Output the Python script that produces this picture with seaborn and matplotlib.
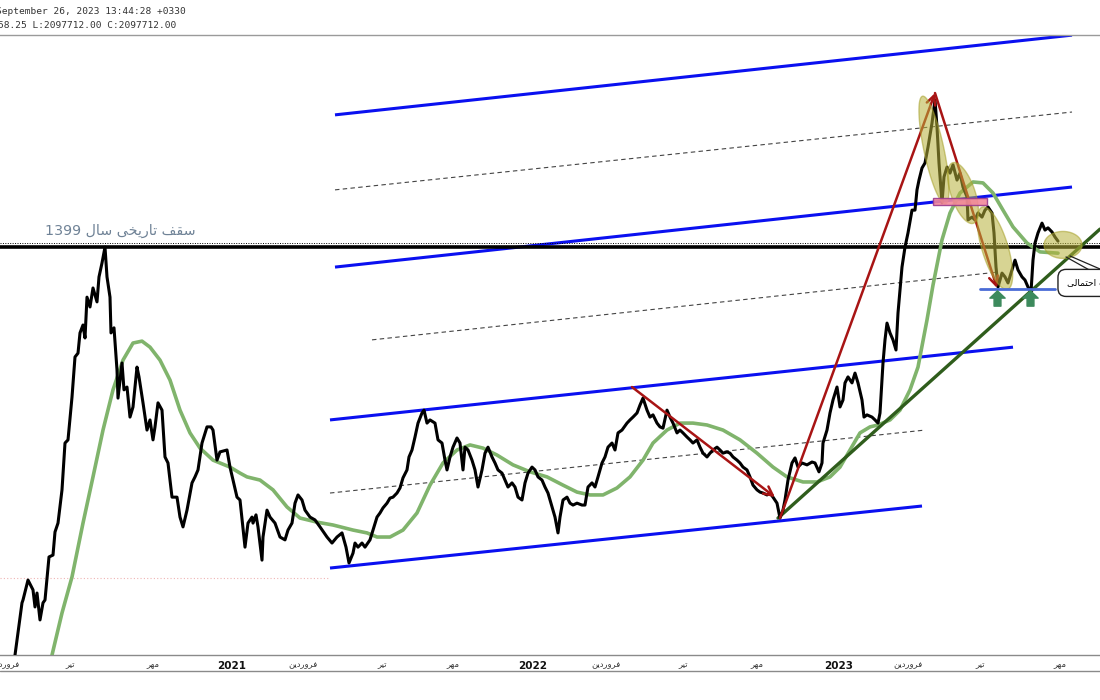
import numpy as np
import pandas as pd
import matplotlib
matplotlib.use("Agg")
import matplotlib.pyplot as plt
import seaborn as sns
from matplotlib.path import Path
from matplotlib.patches import Polygon, Rectangle
from matplotlib.lines import Line2D

sns.set_style("white")
plt.rcParams["font.family"] = ["DejaVu Sans"]

# ---------------- data (TEDPIX, thousands of points, by trading bar) ----------------
bars = [10,17,18,23,28,30,32,35,38,40, 44,48,50,53,57,60,63,67,70,73,
        75,78,80,82,85,88,92,94,97,100, 102,105,106,109,112,113,117,119,122,125,
        128,132,134,138,142,145,148,150,153,157, 160,163,167,172,175,178,182,187,190,193,
        197,202,206,208,212,215,222,225,228,232, 235,240,243,247,248,251,253,257,258,262,
        265,270,275,280,283,287,290,293,297,300, 305,310,315,322,327,332,337,341,344,348,
        350,353,357,360,365,368,372,375,378,382, 385,388,392,395,398,402,404,407,410,413,
        417,419,422,425,430,433,437,440,442,445, 448,452,455,458,460,463,467,470,473,477,
        480,483,487,490,493,497,500,503,507,510, 513,517,520,523,527,530,533,537,540,543,
        547,550,553,555,558,562,565,568,572,577, 580,583,587,590,593,597,600,603,607,610,
        613,617,622,625,628,632,635,638,642,645, 648,652,655,658,662,665,668,672,675,678,
        682,685,688,692,695,698,702,705,708,712, 715,718,722,725,728,732,735,738,742,745,
        748,752,755,758,762,765,768,772,775,778, 780,783,787,790,793,797,802,807,810,814,
        817,818,822,825,828,832,835,838,840,843, 847,850,853,857,859,862,867,870,873,875,
        878,880,882,885,888,891,893,897,900,903, 907,910,912,914,917,920,923,927,930,932,
        934,937,939,942,945,948,952,955,958,962, 963,967,970,973,977,980,983,987,989,991,
        993,997,1000,1003,1007,1010,1013,1017,1020,1023, 1026,1028,1030,1033,1037,1040,1043,1047,1050,1053]
close = [790,955,964,1027,996,942,986,901,955,964, 1100,1106,1179,1207,1312,1460,1470,1605,1732,1744,
         1808,1833,1792,1921,1890,1950,1906,1985,2029,2079, 1985,1921,1808,1824,1691,1602,1713,1628,1637,1542,
         1574,1700,1669,1587,1501,1533,1470,1511,1587,1564, 1416,1397,1289,1289,1226,1195,1248,1334,1353,1375,
         1460,1511,1511,1501,1406,1432,1438,1384,1343,1289, 1280,1131,1207,1226,1207,1233,1195,1090,1163,1248,
         1226,1207,1163,1154,1185,1207,1270,1296,1280,1248, 1226,1217,1195,1163,1144,1163,1176,1131,1081,1112,
         1144,1131,1144,1131,1154,1185,1226,1239,1255,1270, 1286,1289,1302,1318,1350,1375,1416,1438,1479,1523,
         1555,1564,1523,1533,1523,1470,1460,1406,1375,1416, 1447,1476,1460,1375,1447,1438,1406,1375,1321,1375,
         1428,1447,1416,1397,1375,1365,1343,1321,1334,1321, 1289,1280,1334,1365,1384,1375,1353,1343,1321,1302,
         1258,1226,1176,1226,1280,1289,1270,1264,1270,1264, 1264,1321,1334,1321,1353,1397,1416,1447,1460,1438,
         1492,1501,1523,1533,1542,1555,1580,1602,1564,1542, 1549,1523,1511,1507,1564,1542,1523,1492,1501,1492,
         1479,1470,1460,1470,1447,1428,1416,1428,1438,1447, 1438,1428,1432,1428,1416,1406,1397,1384,1375,1353,
         1327,1312,1305,1302,1296,1302,1289,1270,1223,1248, 1280,1343,1397,1413,1384,1397,1391,1400,1397,1369,
         1397,1460,1501,1555,1596,1637,1574,1596,1650,1669, 1650,1681,1650,1596,1542,1549,1542,1533,1523,1555,
         1713,1786,1839,1808,1786,1754,1871,2016,2079,2124, 2196,2196,2260,2291,2329,2345,2395,2471,2544,2459,
         2345,2219,2301,2332,2313,2339,2291,2313,2269,2238, 2165,2174,2165,2187,2174,2196,2206,2187,2124,2016,
         1953,1997,1985,1966,2007,2038,2007,1985,1975,1953, 1937,2038,2092,2124,2155,2133,2140,2127,2111,2098]

sma_bars = [47,57,67,78,88,98,108,118,128,137, 145,155,165,175,185,195,208,225,235,242,
            255,268,282,295,312,328,348,362,372,385, 398,412,425,438,452,465,478,492,508,525,
            542,558,572,585,598,612,625,638,648,662, 675,688,702,718,735,752,768,782,798,812,
            825,835,845,855,865,873,885,895,905,913, 922,928,937,945,955,968,978,988,998,1008,
            1022,1035,1053]
sma = [790,923,1037,1207,1353,1501,1628,1722,1776,1782, 1763,1722,1659,1564,1492,1444,1406,1384,1365,1353,
       1343,1312,1258,1223,1210,1201,1185,1176,1163,1163, 1185,1239,1327,1397,1438,1454,1444,1422,1391,1369,
       1353,1327,1305,1296,1296,1318,1353,1406,1460,1501, 1523,1523,1517,1501,1470,1428,1384,1353,1337,1337,
       1353,1384,1438,1492,1511,1517,1533,1564,1628,1700, 1849,1959,2102,2187,2250,2285,2282,2250,2196,2143,
       2092,2064,2060]

peak_1399 = 2079
tick_bars = [0, 65, 148, 227, 298, 377, 448, 528, 601, 678, 752, 834, 903, 975, 1055]
tick_labels = ["فروردین", "تیر", "مهر", "2021", "فروردین", "تیر", "مهر", "2022",
               "فروردین", "تیر", "مهر", "2023", "فروردین", "تیر", "مهر"]

# drawings (bar, value)
channel_lines = [((330, 2497), (1067, 2749)), ((330, 2016), (1067, 2269)),
                 ((325, 1533), (1008, 1763)), ((325, 1065), (917, 1261))]
mid_lines = [((330, 2260), (1067, 2506)), ((367, 1786), (992, 2000)), ((325, 1302), (920, 1501))]
red_arrows = [((627, 1637), (770, 1289)), ((775, 1223), (930, 2566)), ((930, 2566), (992, 1950))]
trend_line = ((773, 1223), (1095, 2136))
ellipses = [(929, 2386, 55, 10, -78), (958, 2250, 32, 12, -71), (990, 2076, 43, 13, -73), (1058, 2086, 19, 13.5, 0)]
support_level = ((975, 1050), 1947)
support_arrows_bar = [992, 1025]
support_arrows_val = 1918

# ---------------- Persian shaping (presentation forms, visual order) ----------------
AR = {
    'ا': ('\ufe8d', '\ufe8e', None, None), 'ب': ('\ufe8f', '\ufe90', '\ufe91', '\ufe92'),
    'ت': ('\ufe95', '\ufe96', '\ufe97', '\ufe98'), 'ح': ('\ufea1', '\ufea2', '\ufea3', '\ufea4'),
    'خ': ('\ufea5', '\ufea6', '\ufea7', '\ufea8'), 'د': ('\ufea9', '\ufeaa', None, None),
    'ر': ('\ufead', '\ufeae', None, None), 'س': ('\ufeb1', '\ufeb2', '\ufeb3', '\ufeb4'),
    'ف': ('\ufed1', '\ufed2', '\ufed3', '\ufed4'), 'ق': ('\ufed5', '\ufed6', '\ufed7', '\ufed8'),
    'ل': ('\ufedd', '\ufede', '\ufedf', '\ufee0'), 'م': ('\ufee1', '\ufee2', '\ufee3', '\ufee4'),
    'ن': ('\ufee5', '\ufee6', '\ufee7', '\ufee8'), 'ه': ('\ufee9', '\ufeea', '\ufeeb', '\ufeec'),
    'و': ('\ufeed', '\ufeee', None, None), 'ی': ('\ufeef', '\ufef0', '\ufef3', '\ufef4'),
}


def shape_word(w):
    out, prev, i = [], False, 0
    while i < len(w):
        c = w[i]
        if c == 'ل' and i + 1 < len(w) and w[i + 1] == 'ا':
            out.append('\ufefc' if prev else '\ufefb')
            prev = False
            i += 2
            continue
        if c in AR:
            iso, fin, ini, med = AR[c]
            nxt = i + 1 < len(w) and w[i + 1] in AR
            dual = ini is not None
            if prev and dual and nxt:
                g = med
            elif prev:
                g = fin
            elif dual and nxt:
                g = ini
            else:
                g = iso
            out.append(g)
            prev = dual
        else:
            out.append(c)
            prev = False
        i += 1
    return ''.join(out)


def fa(s):
    vis = []
    for w in s.split(' '):
        vis.append(shape_word(w)[::-1] if any(ch in AR for ch in w) else w)
    return ' '.join(vis[::-1])


# ---------------- figure ----------------
fig = plt.figure(figsize=(11, 7), dpi=100)
ax = fig.add_axes([0, 45 / 700, 1, 620 / 700])
ax.set_xlim(-5, 1095)
ax.set_ylim(790.2, 2749.4)

# channel + mid lines
for (x0, y0), (x1, y1) in channel_lines:
    ax.plot([x0, x1], [y0, y1], color="#0a10f0", lw=2.2, zorder=2, solid_capstyle="butt")
for (x0, y0), (x1, y1) in mid_lines:
    ax.plot([x0, x1], [y0, y1], color="#444444", lw=0.8, ls=(0, (4, 3)), zorder=2)

# 1399 ceiling
ax.axhline(peak_1399, color="black", lw=2.6, zorder=2)
ax.axhline(2092, color="black", lw=0.7, ls=(0, (1, 1.5)), zorder=2)
ax.plot([-5, 325], [1033, 1033], color="#f0b4b4", lw=0.8, ls=(0, (1, 2)), zorder=1)
ax.text(40, 2130, fa("سقف تاریخی سال 1399"), fontsize=10.3, color="#6f8296",
        ha="left", va="center", zorder=3)

# moving average and price
sns.lineplot(x=sma_bars, y=sma, ax=ax, color="#80b46c", lw=2.6, zorder=3)
(x0, y0), (x1, y1) = trend_line
ax.plot([x0, x1], [y0, y1], color="#2f5d1c", lw=2.4, zorder=3)
df = pd.DataFrame({"bar": bars, "close": close})
sns.lineplot(data=df, x="bar", y="close", ax=ax, color="black", lw=2.2, zorder=4)

# red arrows
for (xa, ya), (xb, yb) in red_arrows:
    ax.annotate("", xy=(xb, yb), xytext=(xa, ya), zorder=5,
                arrowprops=dict(arrowstyle="->", color="#a81414", lw=1.8,
                                mutation_scale=16, shrinkA=0, shrinkB=0))

# ellipses
def ellipse(cx, cv, a, b, ang, **kw):
    t = np.linspace(0, 2 * np.pi, 90)
    c = ax.transData.transform((cx, cv))
    th = np.deg2rad(ang)
    dx = a * np.cos(t) * np.cos(th) - b * np.sin(t) * np.sin(th)
    dy = a * np.cos(t) * np.sin(th) + b * np.sin(t) * np.cos(th)
    pts = ax.transData.inverted().transform(np.column_stack([c[0] + dx, c[1] + dy]))
    ax.add_patch(Polygon(pts, closed=True, **kw))

for cx, cv, a, b, ang in ellipses:
    ellipse(cx, cv, a, b, ang, facecolor="#b7b23a", alpha=0.55, edgecolor="#a6a02a", lw=1, zorder=6)

ax.add_patch(Rectangle((928, 2212), 54, 22, facecolor="#f2879a", edgecolor="#9a3a8c",
                       lw=1, alpha=0.9, zorder=6))

# support line and arrows
(sx0, sx1), sv = support_level
ax.plot([sx0, sx1], [sv, sv], color="#4a6bd6", lw=2, zorder=6)
arrow_path = Path([(0, 1), (1, 0.05), (0.45, 0.05), (0.45, -1), (-0.45, -1), (-0.45, 0.05), (-1, 0.05), (0, 1)],
                  [Path.MOVETO] + [Path.LINETO] * 6 + [Path.CLOSEPOLY])
ax.plot(support_arrows_bar, [support_arrows_val] * 2, ls="none", marker=arrow_path,
        markersize=11, color="#3c8a5c", zorder=7)

# callout
ax.plot([1061, 1095], [2048, 1988], color="#222222", lw=0.9, zorder=7)
ax.plot([1065, 1095], [2051, 2010], color="#222222", lw=0.9, zorder=7)
ax.text(1062, 1966, fa("حمایت احتمالی"), fontsize=6.5, color="black", ha="left", va="center",
        zorder=8, bbox=dict(boxstyle="round,pad=1.0,rounding_size=0.9", fc="white", ec="#222222", lw=1))

# axes styling
ax.set_xticks(tick_bars)
ax.set_xticklabels([fa(t) for t in tick_labels])
ax.set_yticks([])
ax.set_xlabel("")
ax.set_ylabel("")
for lab, t in zip(ax.get_xticklabels(), tick_labels):
    if t.isdigit():
        lab.set_fontweight("bold")
        lab.set_fontsize(7.5)
        lab.set_color("#111111")
    else:
        lab.set_fontsize(6)
        lab.set_color("#333333")
ax.tick_params(axis="x", direction="out", length=2.5, width=0.8, color="#666666", pad=1.5)
for s in ["left", "right"]:
    ax.spines[s].set_visible(False)
ax.spines["top"].set_color("#9a9a9a")
ax.spines["bottom"].set_color("#8a8a8a")
ax.spines["top"].set_linewidth(1)
ax.spines["bottom"].set_linewidth(1)
ax.set_facecolor("white")

fig.add_artist(Line2D([0, 1], [29 / 700, 29 / 700], color="#8a8a8a", lw=1))

# header
fig.text(-0.004, 1 - 11 / 700, "September 26, 2023 13:44:28 +0330", fontsize=6.8,
         family="DejaVu Sans Mono", color="#333333", ha="left", va="center")
fig.text(-0.002, 1 - 25 / 700, "58.25 L:2097712.00 C:2097712.00", fontsize=6.8,
         family="DejaVu Sans Mono", color="#333333", ha="left", va="center")

fig.savefig("out.png", dpi=100)
